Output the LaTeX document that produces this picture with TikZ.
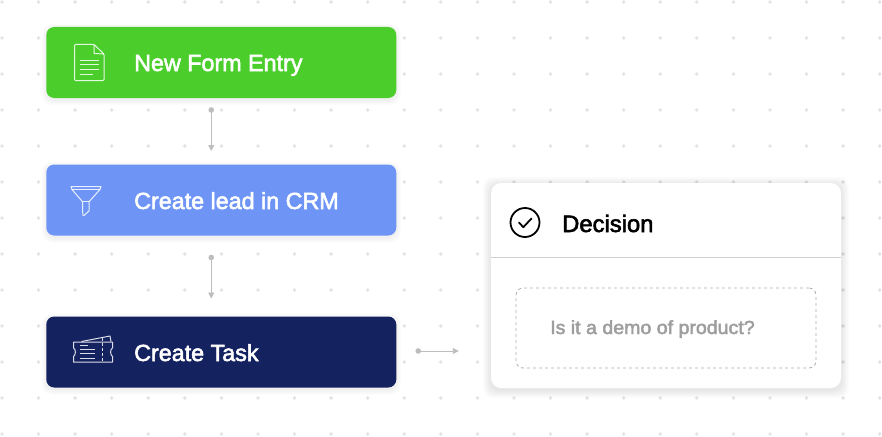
\documentclass[tikz,border=0pt]{standalone}
\usepackage{fontspec}
\newfontfamily\boxfont[FakeBold=2.4]{Liberation Sans}
\newfontfamily\askfont[FakeBold=2.4,FakeStretch=1.03]{Liberation Sans}
\usetikzlibrary{arrows.meta}
\definecolor{formgreen}{HTML}{4BCE2C}
\definecolor{leadblue}{HTML}{6E95F5}
\definecolor{tasknavy}{HTML}{152260}
\definecolor{griddot}{HTML}{E3E3E3}
\definecolor{flowgray}{HTML}{BDBDBD}
\tikzset{stepbox/.style={rounded corners=8pt,minimum width=350pt,minimum height=71pt,inner sep=0pt,line width=0pt},
 steplabel/.style={anchor=base west,inner sep=0pt,text=white,font=\boxfont\fontsize{23.3}{28}\selectfont},
 glyph/.style={draw=white,opacity=.85,line width=1pt,line join=round},
 flow/.style={draw=flowgray,line width=.9pt,-{Triangle[length=6pt,width=6pt]}},
 flowdot/.style={fill=flowgray},
 griddotmark/.style={fill=griddot},
 }
\newcommand{\softshadow}[5]{%
 \foreach \w in {1,...,#5}
  \fill[black,opacity=.012,rounded corners=10pt] ({#1-\w},{#2-\w+2}) rectangle ({#3+\w},{#4+\w+2});}

\begin{document}
\begin{tikzpicture}[x=1pt,y=-1pt]
 \useasboundingbox (0,0) rectangle (882,436);
 \fill[white] (0,0) rectangle (882,436);
 % dot grid
 \foreach \i in {0,...,24}
  \foreach \j in {0,...,12}
   \fill[griddotmark] ({2+36.57*\i},{2+36*\j}) circle (1.9);
 % shadows
 \softshadow{46.5}{27}{396}{98}{5}
 \softshadow{46.5}{164.5}{396}{235.5}{5}
 \softshadow{46.5}{316.5}{396}{387.5}{5}
 \softshadow{491}{183}{841}{388}{8}
 % steps
 \node[stepbox,fill=formgreen] (form) at (221.25,62.5) {};
 \node[stepbox,fill=leadblue] (lead) at (221.25,200) {};
 \node[stepbox,fill=tasknavy] (task) at (221.25,352) {};
 \node[steplabel] (formtext) at (134,71) {New Form Entry};
 \node[steplabel] (leadtext) at (134,209) {Create lead in CRM};
 \node[steplabel] (tasktext) at (134,361) {Create Task};
 % form icon
 \draw[glyph,rounded corners=1pt] (94,44.5) -- (74.5,44.5) -- (74.5,80.5) -- (104,80.5) -- (104,54) -- cycle;
 \draw[glyph] (94,44.5) -- (94,53.5) -- (104,54);
 \draw[glyph] (79.5,60) -- (99,60);
 \draw[glyph] (79.5,64.7) -- (99,64.7);
 \draw[glyph] (79.5,69.3) -- (99,69.3);
 \draw[glyph] (79.5,74) -- (92.5,74);
 % funnel icon
 \draw[glyph] (71,186.5) -- (101,186.5) -- (100,189.5) -- (89,201.7) -- (89,211) -- (84,215.5) -- (82.8,215) -- (82.5,201.7) -- (72,189.5) -- cycle;
 \draw[glyph] (72,189.5) -- (100,189.5);
 \draw[glyph] (82.5,201.7) -- (89,201.7);
 % ticket icon
 \draw[glyph] (73.5,342) -- (112.5,342) -- (112.5,348) .. controls (110,349) and (110,355) .. (112.5,356.5) -- (112.5,362) -- (73.5,362) -- (73.5,356.5) .. controls (76,355) and (76,349) .. (73.5,348) -- cycle;
 \draw[glyph] (81.5,341.5) -- (110,336) -- (111,341.5);
 \draw[glyph,densely dashed] (102,337.5) -- (102,362);
 \draw[glyph] (80,345) -- (88,345);
 \draw[glyph] (80,349.3) -- (95,349.3);
 \draw[glyph] (80,353.6) -- (95,353.6);
 \draw[glyph] (80,358) -- (95,358);
 % decision card
 \node[rounded corners=10pt,fill=white,minimum width=350pt,minimum height=205pt,inner sep=0pt] (card) at (666,285.5) {};
 \coordinate (ruleleft) at (491,257.5);
 \coordinate (ruleright) at (841,257.5);
 \draw[line width=.9pt,draw=black!18] (ruleleft) -- (ruleright);
 \node[draw=black,line width=1.8pt,circle,minimum size=29pt,inner sep=0pt] (tick) at (525,222.5) {};
 \draw[line width=1.8pt,line cap=round,line join=round] (519,222.5) -- (523.3,227.2) -- (531.5,218.5);
 \node[anchor=base west,inner sep=0pt,text=black,font=\boxfont\fontsize{23.8}{28}\selectfont] (decision) at (562,232) {Decision};
 \node[draw=black!32,dashed,line width=.8pt,rounded corners=7pt,minimum width=300pt,minimum height=80pt,inner sep=0pt] (ask) at (666,328) {};
 \node[anchor=base west,inner sep=0pt,text=black!38,font=\askfont\fontsize{19}{22}\selectfont] (asktext) at (550,334) {Is it a demo of product?};
 % connectors
 \draw[flow,shorten <=12pt,shorten >=13.5pt] ([xshift=-10pt]form.south) -- ([xshift=-10pt]lead.north);
 \draw[flow,shorten <=22pt,shorten >=18pt] ([xshift=-10pt]lead.south) -- ([xshift=-10pt]task.north);
 \draw[flow,shorten <=22pt,shorten >=32pt] ([yshift=1pt]task.east) -- ([yshift=1pt]task.east -| card.west);
 \fill[flowdot] ([xshift=-10pt,yshift=-12pt]form.south) circle (2.8);
 \fill[flowdot] ([xshift=-10pt,yshift=-22pt]lead.south) circle (2.8);
 \fill[flowdot] ([xshift=22pt,yshift=1pt]task.east) circle (2.8);
\end{tikzpicture}
\end{document}
